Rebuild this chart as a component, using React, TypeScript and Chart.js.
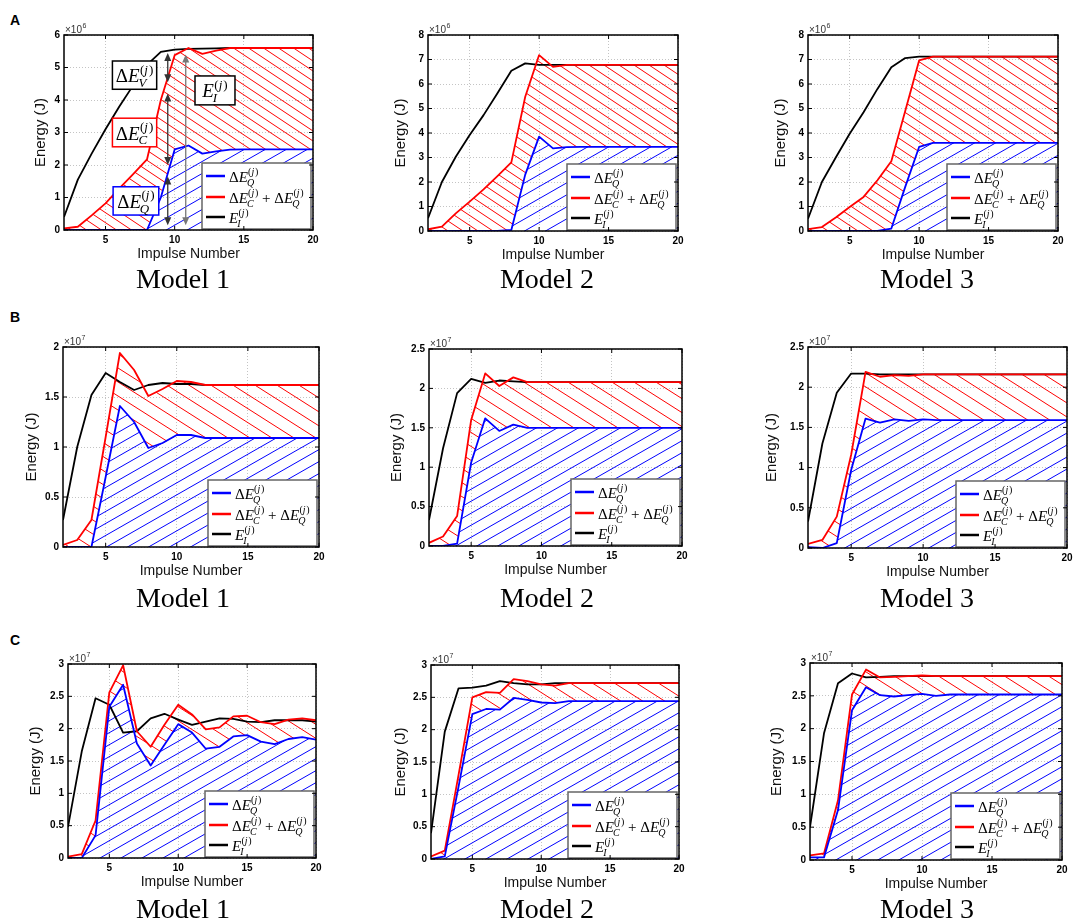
import React, { useEffect, useRef } from "react";
import { Chart, registerables } from "chart.js";

Chart.register(...registerables);

const impulses = [2, 3, 4, 5, 6, 7, 8, 9, 10, 11, 12, 13, 14, 15, 16, 17, 18, 19, 20];
const xTicks = [5, 10, 15, 20];

const yTicksA1 = [0, 1, 2, 3, 4, 5, 6];
const yTicksA23 = [0, 1, 2, 3, 4, 5, 6, 7, 8];
const yTicksB1 = [0, 0.5, 1, 1.5, 2];
const yTicksB23 = [0, 0.5, 1, 1.5, 2, 2.5];
const yTicksC = [0, 0.5, 1, 1.5, 2, 2.5, 3];

// row A, energy in 10^6 J
const qA1 = [0, 0, 0, 0, 0, 0, 0, 1.0, 2.48, 2.6, 2.35, 2.42, 2.47, 2.48, 2.48, 2.48, 2.48, 2.48, 2.48];
const cqA1 = [0.05, 0.1, 0.45, 0.82, 1.28, 1.72, 2.17, 4.0, 5.38, 5.6, 5.42, 5.52, 5.6, 5.6, 5.6, 5.6, 5.6, 5.6, 5.6];
const eiA1 = [0.4, 1.55, 2.35, 3.1, 3.8, 4.45, 5.08, 5.48, 5.55, 5.57, 5.58, 5.59, 5.6, 5.6, 5.6, 5.6, 5.6, 5.6, 5.6];

const qA2 = [0, 0, 0, 0, 0, 0, 0.04, 2.3, 3.85, 3.37, 3.42, 3.43, 3.43, 3.43, 3.43, 3.43, 3.43, 3.43, 3.43];
const cqA2 = [0.07, 0.18, 0.72, 1.2, 1.7, 2.24, 2.8, 5.48, 7.18, 6.7, 6.78, 6.78, 6.78, 6.78, 6.78, 6.78, 6.78, 6.78, 6.78];
const eiA2 = [0.52, 2.0, 3.03, 3.92, 4.73, 5.62, 6.54, 6.84, 6.78, 6.78, 6.78, 6.78, 6.78, 6.78, 6.78, 6.78, 6.78, 6.78, 6.78];

const qA3 = [0, 0, 0, 0, 0, 0, 0.1, 1.8, 3.43, 3.6, 3.6, 3.6, 3.6, 3.6, 3.6, 3.6, 3.6, 3.6, 3.6];
const cqA3 = [0.08, 0.16, 0.55, 0.98, 1.39, 2.07, 2.85, 4.9, 6.96, 7.12, 7.12, 7.12, 7.12, 7.12, 7.12, 7.12, 7.12, 7.12, 7.12];
const eiA3 = [0.5, 2.0, 3.0, 3.97, 4.85, 5.8, 6.68, 7.06, 7.12, 7.12, 7.12, 7.12, 7.12, 7.12, 7.12, 7.12, 7.12, 7.12, 7.12];

// row B, energy in 10^7 J
const qB1 = [0, 0, 0, 0.7, 1.41, 1.25, 0.99, 1.04, 1.12, 1.12, 1.09, 1.09, 1.09, 1.09, 1.09, 1.09, 1.09, 1.09, 1.09];
const cqB1 = [0.02, 0.07, 0.27, 1.1, 1.94, 1.77, 1.51, 1.58, 1.66, 1.65, 1.62, 1.62, 1.62, 1.62, 1.62, 1.62, 1.62, 1.62, 1.62];
const eiB1 = [0.27, 1.0, 1.52, 1.74, 1.65, 1.57, 1.62, 1.64, 1.63, 1.63, 1.62, 1.62, 1.62, 1.62, 1.62, 1.62, 1.62, 1.62, 1.62];

const qB2 = [0, 0, 0.03, 1.06, 1.62, 1.46, 1.54, 1.5, 1.5, 1.5, 1.5, 1.5, 1.5, 1.5, 1.5, 1.5, 1.5, 1.5, 1.5];
const cqB2 = [0.04, 0.12, 0.38, 1.6, 2.19, 2.03, 2.14, 2.08, 2.08, 2.08, 2.08, 2.08, 2.08, 2.08, 2.08, 2.08, 2.08, 2.08, 2.08];
const eiB2 = [0.33, 1.24, 1.94, 2.12, 2.07, 2.1, 2.09, 2.08, 2.08, 2.08, 2.08, 2.08, 2.08, 2.08, 2.08, 2.08, 2.08, 2.08, 2.08];

const qB3 = [0.01, 0, 0.06, 0.97, 1.61, 1.56, 1.6, 1.58, 1.6, 1.59, 1.59, 1.59, 1.59, 1.59, 1.59, 1.59, 1.59, 1.59, 1.59];
const cqB3 = [0.05, 0.1, 0.39, 1.16, 2.19, 2.13, 2.15, 2.14, 2.16, 2.16, 2.16, 2.16, 2.16, 2.16, 2.16, 2.16, 2.16, 2.16, 2.16];
const eiB3 = [0.33, 1.3, 1.93, 2.17, 2.17, 2.16, 2.16, 2.16, 2.16, 2.16, 2.16, 2.16, 2.16, 2.16, 2.16, 2.16, 2.16, 2.16, 2.16];

// row C, energy in 10^7 J
const qC1 = [0, 0, 0.35, 2.34, 2.68, 1.77, 1.43, 1.75, 2.07, 1.94, 1.69, 1.72, 1.88, 1.9, 1.8, 1.76, 1.84, 1.87, 1.83];
const cqC1 = [0.02, 0.06, 0.58, 2.56, 2.98, 1.96, 1.72, 2.06, 2.37, 2.22, 1.99, 2.02, 2.19, 2.2, 2.1, 2.07, 2.14, 2.16, 2.13];
const eiC1 = [0.48, 1.65, 2.47, 2.37, 1.94, 1.96, 2.16, 2.23, 2.14, 2.06, 2.11, 2.16, 2.15, 2.11, 2.1, 2.13, 2.13, 2.13, 2.11];

const qC2 = [0, 0.04, 1.12, 2.24, 2.32, 2.31, 2.49, 2.46, 2.42, 2.41, 2.44, 2.44, 2.44, 2.44, 2.44, 2.44, 2.44, 2.44, 2.44];
const cqC2 = [0.04, 0.13, 1.3, 2.5, 2.58, 2.57, 2.78, 2.75, 2.7, 2.68, 2.72, 2.72, 2.72, 2.72, 2.72, 2.72, 2.72, 2.72, 2.72];
const eiC2 = [0.4, 1.97, 2.64, 2.65, 2.68, 2.75, 2.72, 2.7, 2.7, 2.72, 2.72, 2.72, 2.72, 2.72, 2.72, 2.72, 2.72, 2.72, 2.72];

const qC3 = [0.04, 0.04, 0.76, 2.28, 2.63, 2.51, 2.49, 2.51, 2.53, 2.5, 2.52, 2.52, 2.52, 2.52, 2.52, 2.52, 2.52, 2.52, 2.52];
const cqC3 = [0.07, 0.1, 0.91, 2.52, 2.9, 2.78, 2.79, 2.8, 2.81, 2.8, 2.8, 2.8, 2.8, 2.8, 2.8, 2.8, 2.8, 2.8, 2.8];
const eiC3 = [0.5, 1.93, 2.69, 2.84, 2.78, 2.79, 2.8, 2.8, 2.8, 2.8, 2.8, 2.8, 2.8, 2.8, 2.8, 2.8, 2.8, 2.8, 2.8];

// annotations of panel A / Model 1, in data units
const a1Arrows = [
  { x: 9.5, from: 5.45, to: 4.55, color: "#333" },
  { x: 9.5, from: 4.2, to: 2.0, color: "#333" },
  { x: 9.5, from: 1.65, to: 0.15, color: "#333" },
  { x: 10.8, from: 5.4, to: 0.15, color: "#777" },
];
const a1Boxes = [
  { x0: 5.5, x1: 8.7, y0: 4.33, y1: 5.2, color: "#000", delta: true, sub: "V" },
  { x0: 5.5, x1: 8.7, y0: 2.56, y1: 3.44, color: "#ff0000", delta: true, sub: "C" },
  { x0: 5.55, x1: 8.85, y0: 0.46, y1: 1.33, color: "#0000ff", delta: true, sub: "Q" },
  { x0: 11.47, x1: 14.36, y0: 3.85, y1: 4.74, color: "#000", delta: false, sub: "I" },
];

const SERIF = '"Liberation Serif", "DejaVu Serif", serif';
const SANS = '"Liberation Sans", Arial, sans-serif';
const AXIS_H = 37;
const PAD_T = 14;
const PAD_R = 10;

type Panel = {
  id: string;
  left: number;
  top: number;
  right: number;
  bottom: number;
  titleGap: number;
  q: number[];
  cq: number[];
  ei: number[];
  yTicks: number[];
  exponent: string;
  redHatch: [number, number];
  notes?: boolean;
};

const panels: Panel[] = [
  { id: "A1", left: 64, top: 35, right: 313, bottom: 230, titleGap: 23, q: qA1, cq: cqA1, ei: eiA1, yTicks: yTicksA1, exponent: "6", redHatch: [15, 10], notes: true },
  { id: "A2", left: 428, top: 35, right: 678, bottom: 231, titleGap: 27, q: qA2, cq: cqA2, ei: eiA2, yTicks: yTicksA23, exponent: "6", redHatch: [15, 10] },
  { id: "A3", left: 808, top: 35, right: 1058, bottom: 231, titleGap: 27, q: qA3, cq: cqA3, ei: eiA3, yTicks: yTicksA23, exponent: "6", redHatch: [15, 10] },
  { id: "B1", left: 63, top: 347, right: 319, bottom: 547, titleGap: 31, q: qB1, cq: cqB1, ei: eiB1, yTicks: yTicksB1, exponent: "7", redHatch: [22, 14] },
  { id: "B2", left: 429, top: 349, right: 682, bottom: 546, titleGap: 32, q: qB2, cq: cqB2, ei: eiB2, yTicks: yTicksB23, exponent: "7", redHatch: [22, 14] },
  { id: "B3", left: 808, top: 347, right: 1067, bottom: 548, titleGap: 36, q: qB3, cq: cqB3, ei: eiB3, yTicks: yTicksB23, exponent: "7", redHatch: [22, 14] },
  { id: "C1", left: 68, top: 664, right: 316, bottom: 858, titleGap: 32, q: qC1, cq: cqC1, ei: eiC1, yTicks: yTicksC, exponent: "7", redHatch: [22, 14] },
  { id: "C2", left: 431, top: 665, right: 679, bottom: 859, titleGap: 30, q: qC2, cq: cqC2, ei: eiC2, yTicks: yTicksC, exponent: "7", redHatch: [22, 14] },
  { id: "C3", left: 810, top: 663, right: 1062, bottom: 860, titleGap: 33, q: qC3, cq: cqC3, ei: eiC3, yTicks: yTicksC, exponent: "7", redHatch: [22, 14] },
];

const rowLabels = [
  { text: "A", top: 13 },
  { text: "B", top: 310 },
  { text: "C", top: 633 },
];
const captionRows = [265, 584, 895];
const captionCenters = [183, 547, 927];

function hatch(ctx: CanvasRenderingContext2D, color: string, w: number, h: number, back: boolean) {
  const tile = document.createElement("canvas");
  tile.width = w;
  tile.height = h;
  const g = tile.getContext("2d")!;
  g.strokeStyle = color;
  g.lineWidth = 1;
  g.beginPath();
  for (const k of [-1, 0, 1]) {
    if (back) {
      g.moveTo(-w, -h + k * h);
      g.lineTo(2 * w, 2 * h + k * h);
    } else {
      g.moveTo(-w, 2 * h + k * h);
      g.lineTo(2 * w, -h + k * h);
    }
  }
  g.stroke();
  return ctx.createPattern(tile, "repeat")!;
}

// draws [Δ]E_sub^(j), returns width
function drawE(ctx: CanvasRenderingContext2D, x: number, y: number, size: number, delta: boolean, sub: string, draw = true) {
  const small = Math.round(size * 0.66);
  let cx = x;
  if (delta) {
    ctx.font = `${size}px ${SERIF}`;
    if (draw) ctx.fillText("Δ", cx, y);
    cx += ctx.measureText("Δ").width;
  }
  ctx.font = `italic ${size}px ${SERIF}`;
  if (draw) ctx.fillText("E", cx, y);
  cx += ctx.measureText("E").width;
  ctx.font = `italic ${small}px ${SERIF}`;
  const subW = ctx.measureText(sub).width;
  if (draw) ctx.fillText(sub, cx - size * 0.06, y + size * 0.25);
  let sx = cx + size * 0.02;
  const supY = y - size * 0.45;
  ctx.font = `${small}px ${SERIF}`;
  if (draw) ctx.fillText("(", sx, supY);
  sx += ctx.measureText("(").width;
  ctx.font = `italic ${small}px ${SERIF}`;
  if (draw) ctx.fillText("j", sx, supY);
  sx += ctx.measureText("j").width + small * 0.08;
  ctx.font = `${small}px ${SERIF}`;
  if (draw) ctx.fillText(")", sx, supY);
  sx += ctx.measureText(")").width;
  return Math.max(cx - size * 0.06 + subW, sx) - x;
}

function drawArrow(ctx: CanvasRenderingContext2D, x: number, yTop: number, yBot: number, color: string) {
  ctx.strokeStyle = color;
  ctx.fillStyle = color;
  ctx.lineWidth = 1.3;
  ctx.beginPath();
  ctx.moveTo(x, yTop + 5);
  ctx.lineTo(x, yBot - 5);
  ctx.stroke();
  ctx.beginPath();
  ctx.moveTo(x, yTop);
  ctx.lineTo(x - 3.5, yTop + 8);
  ctx.lineTo(x + 3.5, yTop + 8);
  ctx.closePath();
  ctx.fill();
  ctx.beginPath();
  ctx.moveTo(x, yBot);
  ctx.lineTo(x - 3.5, yBot - 8);
  ctx.lineTo(x + 3.5, yBot - 8);
  ctx.closePath();
  ctx.fill();
}

const decorPlugin = {
  id: "decor",
  afterDatasetsDraw(chart: any, _args: any, opts: any) {
    const { ctx, chartArea: a, scales } = chart;
    const xs = scales.x;
    const ys = scales.y;
    ctx.save();
    ctx.textBaseline = "alphabetic";
    ctx.textAlign = "left";

    if (opts.notes) {
      for (const ar of a1Arrows) {
        drawArrow(ctx, xs.getPixelForValue(ar.x), ys.getPixelForValue(ar.from), ys.getPixelForValue(ar.to), ar.color);
      }
      for (const b of a1Boxes) {
        const l = xs.getPixelForValue(b.x0);
        const r = xs.getPixelForValue(b.x1);
        const t = ys.getPixelForValue(b.y1);
        const bt = ys.getPixelForValue(b.y0);
        ctx.fillStyle = "#fff";
        ctx.fillRect(l, t, r - l, bt - t);
        ctx.strokeStyle = b.color;
        ctx.lineWidth = 1.5;
        ctx.strokeRect(l, t, r - l, bt - t);
        ctx.fillStyle = "#000";
        const tw = drawE(ctx, 0, 0, 19, b.delta, b.sub, false);
        drawE(ctx, (l + r) / 2 - tw / 2, (t + bt) / 2 + 7, 19, b.delta, b.sub);
      }
    }

    // legend
    const lw = 109;
    const lh = 66;
    const lx = a.right - lw - 2;
    const ly = a.bottom - lh - 1;
    ctx.fillStyle = "#fff";
    ctx.fillRect(lx, ly, lw, lh);
    ctx.strokeStyle = "#666";
    ctx.lineWidth = 1.5;
    ctx.strokeRect(lx, ly, lw, lh);
    const items = [
      { color: "#0000ff", dy: 13 },
      { color: "#ff0000", dy: 34 },
      { color: "#000000", dy: 54 },
    ];
    items.forEach((it, i) => {
      const yy = ly + it.dy;
      ctx.strokeStyle = it.color;
      ctx.lineWidth = 2.5;
      ctx.beginPath();
      ctx.moveTo(lx + 4, yy);
      ctx.lineTo(lx + 23, yy);
      ctx.stroke();
      ctx.fillStyle = "#000";
      const tx = lx + 27;
      const by = yy + 6;
      if (i === 0) drawE(ctx, tx, by, 15, true, "Q");
      if (i === 1) {
        let w = drawE(ctx, tx, by, 15, true, "C");
        ctx.font = `15px ${SERIF}`;
        ctx.fillText(" + ", tx + w, by);
        w += ctx.measureText(" + ").width;
        drawE(ctx, tx + w, by, 15, true, "Q");
      }
      if (i === 2) drawE(ctx, tx, by, 15, false, "I");
    });

    // exponent
    ctx.fillStyle = "#333";
    ctx.font = `10px ${SANS}`;
    ctx.fillText("×10", a.left + 1, a.top - 2);
    const ew = ctx.measureText("×10").width;
    ctx.font = `7px ${SANS}`;
    ctx.fillText(opts.exponent, a.left + 1 + ew + 0.5, a.top - 7);

    // frame and inward ticks
    ctx.strokeStyle = "#000";
    ctx.lineWidth = 1.5;
    ctx.strokeRect(a.left, a.top, a.right - a.left, a.bottom - a.top);
    ctx.lineWidth = 1;
    ctx.beginPath();
    for (const t of xs.ticks) {
      const px = xs.getPixelForValue(t.value);
      ctx.moveTo(px, a.bottom);
      ctx.lineTo(px, a.bottom - 4);
      ctx.moveTo(px, a.top);
      ctx.lineTo(px, a.top + 4);
    }
    for (const t of ys.ticks) {
      const py = ys.getPixelForValue(t.value);
      ctx.moveTo(a.left, py);
      ctx.lineTo(a.left + 4, py);
      ctx.moveTo(a.right, py);
      ctx.lineTo(a.right - 4, py);
    }
    ctx.stroke();
    ctx.restore();
  },
};

const toPoints = (values: number[]) => impulses.map((x, i) => ({ x, y: values[i] }));

function EnergyPanel({ p }: { p: Panel }) {
  const canvasRef = useRef<HTMLCanvasElement | null>(null);
  // y title centre sits 13px right of the axis box's left edge
  const axisW = p.titleGap + 13;
  const w = p.right - p.left + axisW + PAD_R;
  const h = p.bottom - p.top + PAD_T + AXIS_H;

  useEffect(() => {
    if (!canvasRef.current) return;
    const ctx = canvasRef.current.getContext("2d")!;
    const tickFont = { family: SANS, size: 10, weight: "bold" as const };
    const yMax = p.yTicks[p.yTicks.length - 1];
    const chart = new Chart(canvasRef.current, {
      type: "line",
      data: {
        datasets: [
          {
            label: "dEQ",
            data: toPoints(p.q),
            borderColor: "#0000ff",
            backgroundColor: hatch(ctx, "#0000ff", 21, 12, false),
            fill: "origin",
          },
          {
            label: "dEC + dEQ",
            data: toPoints(p.cq),
            borderColor: "#ff0000",
            backgroundColor: hatch(ctx, "#ff0000", p.redHatch[0], p.redHatch[1], true),
            fill: 0,
          },
          {
            label: "EI",
            data: toPoints(p.ei),
            borderColor: "#000000",
            fill: false,
          },
        ],
      },
      options: {
        responsive: false,
        animation: false,
        events: [],
        layout: { padding: { left: 0, top: PAD_T, right: PAD_R, bottom: 0 } },
        elements: {
          point: { radius: 0 },
          line: { borderWidth: 1.8, tension: 0, borderJoinStyle: "round" },
        },
        plugins: {
          legend: { display: false },
          tooltip: { enabled: false },
          filler: { drawTime: "beforeDatasetsDraw" },
          decor: { exponent: p.exponent, notes: !!p.notes },
        } as any,
        scales: {
          x: {
            type: "linear",
            min: 2,
            max: 20,
            afterBuildTicks: (s: any) => {
              s.ticks = xTicks.map((v) => ({ value: v }));
            },
            afterFit: (s: any) => {
              s.height = AXIS_H;
            },
            ticks: { padding: 4, font: tickFont, color: "#000", maxRotation: 0, autoSkip: false, callback: (v: any) => String(v) },
            grid: { color: "#c4c4c4", lineWidth: 1, drawTicks: false },
            border: { display: false, dash: [1, 2] },
            title: { display: true, text: "Impulse Number", font: { family: SANS, size: 14 }, color: "#111", padding: { top: 0, bottom: 4 } },
          },
          y: {
            type: "linear",
            min: 0,
            max: yMax,
            afterBuildTicks: (s: any) => {
              s.ticks = p.yTicks.map((v) => ({ value: v }));
            },
            afterFit: (s: any) => {
              s.width = axisW;
            },
            ticks: { padding: 4, font: tickFont, color: "#000", autoSkip: false, callback: (v: any) => String(v) },
            grid: { color: "#c4c4c4", lineWidth: 1, drawTicks: false },
            border: { display: false, dash: [1, 2] },
            title: { display: true, text: "Energy (J)", font: { family: SANS, size: 15 }, color: "#111", padding: { top: 4, bottom: 4 } },
          },
        },
      },
      plugins: [decorPlugin],
    });
    return () => chart.destroy();
  }, [p]);

  return (
    <canvas
      ref={canvasRef}
      width={w}
      height={h}
      style={{ position: "absolute", left: p.left - axisW, top: p.top - PAD_T, width: w, height: h }}
    />
  );
}

export default function App() {
  return (
    <div style={{ position: "absolute", left: 0, top: 0, width: 1084, height: 922, background: "#fff", overflow: "hidden" }}>
      {rowLabels.map((r) => (
        <div
          key={r.text}
          style={{ position: "absolute", left: 10, top: r.top, font: `bold 14px ${SANS}`, lineHeight: "14px", color: "#000" }}
        >
          {r.text}
        </div>
      ))}
      {panels.map((p) => (
        <EnergyPanel key={p.id} p={p} />
      ))}
      {captionRows.map((top) =>
        captionCenters.map((cx, i) => (
          <div
            key={`${top}-${i}`}
            style={{ position: "absolute", left: cx - 100, top, width: 200, textAlign: "center", font: `28px ${SERIF}`, lineHeight: "28px", color: "#000" }}
          >
            {`Model ${i + 1}`}
          </div>
        ))
      )}
    </div>
  );
}
